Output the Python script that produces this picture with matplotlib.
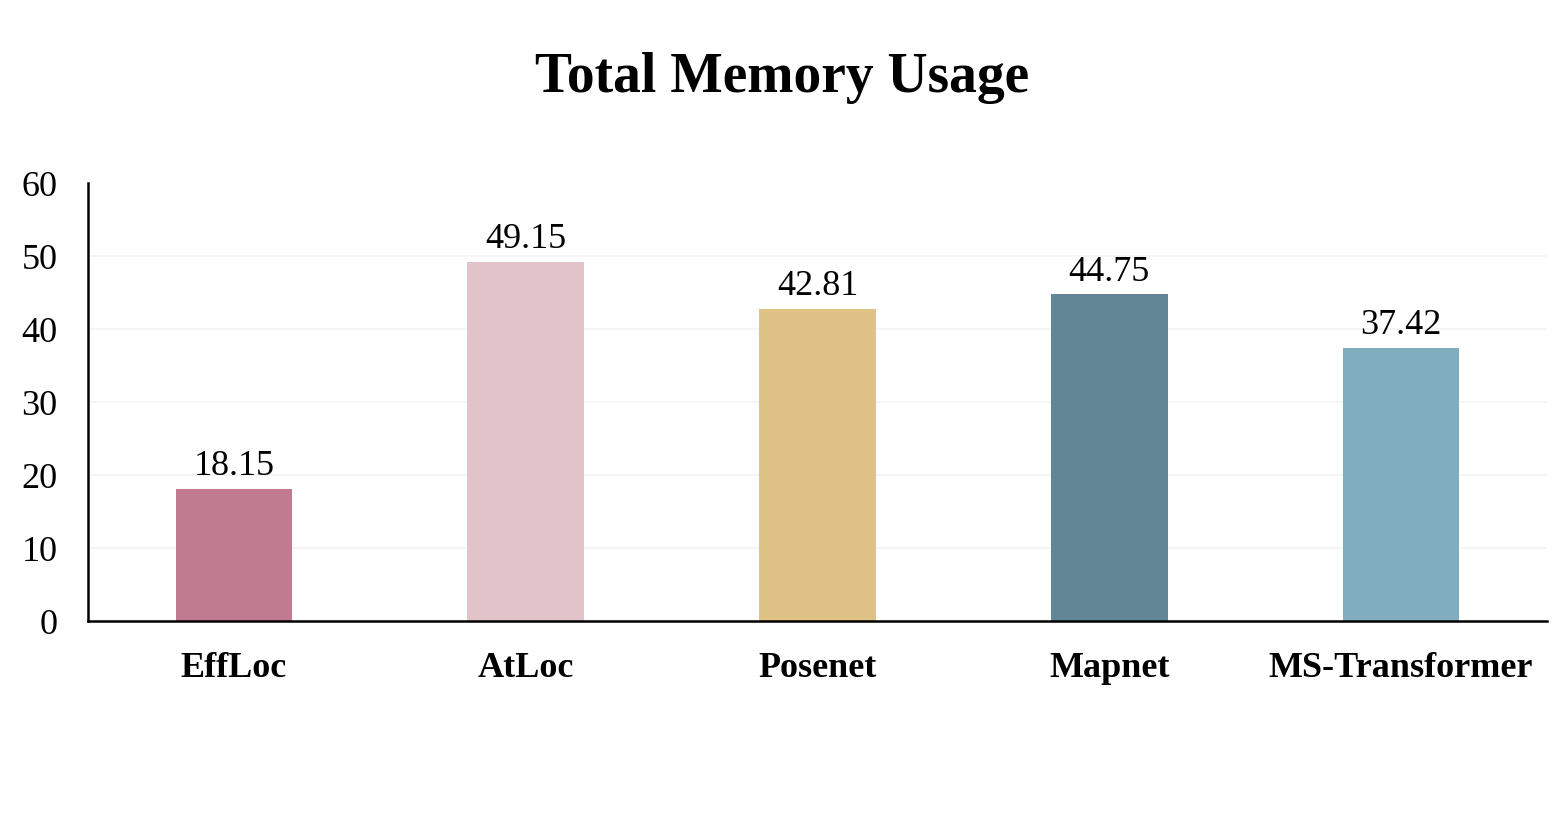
import matplotlib.pyplot as plt

plt.rcParams['font.family'] = ['Liberation Serif', 'DejaVu Serif']

# datos
modelos = ["EffLoc", "AtLoc", "Posenet", "Mapnet", "MS-Transformer"]
memoria = [18.15, 49.15, 42.81, 44.75, 37.42]
cores = ["#C07B90", "#E2C3C9", "#DFC285", "#628695", "#81AEBF"]

fig = plt.figure(figsize=(15.64, 8.23), dpi=100)
ax = fig.add_axes([0.0563, 0.2454, 0.9327, 0.5322])

x = range(len(modelos))
barras = ax.bar(x, memoria, width=0.4, color=cores, zorder=2)

for b, v in zip(barras, memoria):
    ax.text(b.get_x() + b.get_width() / 2, v + 0.8, f"{v:.2f}",
            ha="center", va="bottom", fontsize=26)

ax.set_xlim(-0.5, len(modelos) - 0.5)
ax.set_ylim(0, 60)
ax.set_yticks(range(0, 61, 10))
ax.set_xticks(list(x))
ax.set_xticklabels(modelos, fontsize=26, fontweight="bold")
ax.tick_params(axis="y", labelsize=26, length=0, pad=22)
ax.tick_params(axis="x", length=0, pad=22)

for y in range(10, 60, 10):
    ax.axhline(y, color="#F3F3F3", linewidth=1.2, zorder=0)

for s in ["top", "right"]:
    ax.spines[s].set_visible(False)
ax.spines["left"].set_linewidth(1.8)
ax.spines["bottom"].set_linewidth(1.8)

fig.text(0.5, 0.905, "Total Memory Usage", ha="center", va="center",
         fontsize=40, fontweight="bold")

fig.savefig("out.png", dpi=100)
